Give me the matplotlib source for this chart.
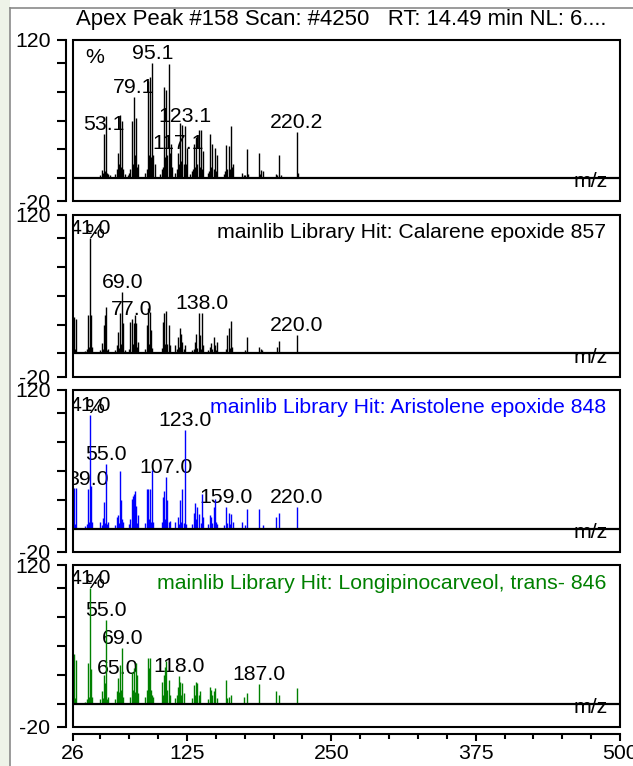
import matplotlib
matplotlib.use("Agg")
import matplotlib.pyplot as plt
from matplotlib.patches import Rectangle
from matplotlib.ticker import FixedLocator

plt.rcParams['font.family'] = ['Liberation Sans', 'DejaVu Sans']

title = "Apex Peak #158 Scan: #4250   RT: 14.49 min NL: 6...."

# measured scan
scan_mz = [50, 51, 52, 53, 54, 55, 56, 57, 58,
           63, 64, 65, 66, 67, 68, 69, 70, 71,
           74, 75, 76, 77, 78, 79, 80, 81, 82, 83,
           89, 90, 91, 92, 93, 94, 95, 96, 97,
           102, 103, 104, 105, 106, 107, 108, 109, 110, 111, 112,
           115, 116, 117, 118, 119, 120, 121, 122, 123, 124, 125,
           128, 129, 130, 131, 132, 133, 134, 135, 136, 137, 138, 139,
           143, 144, 145, 146, 147, 148, 149, 150, 151,
           157, 158, 159, 160, 161, 162, 163, 164, 165,
           173, 174, 175, 177, 178,
           187, 188, 189, 191,
           202, 203, 205, 206,
           220, 221,
           232, 247, 262, 281, 300, 322, 356]
scan_int = [3, 7, 5, 38, 6, 54, 5, 4, 3,
            4, 8, 22, 12, 55, 10, 50, 8, 4,
            3, 5, 8, 50, 12, 70, 20, 52, 10, 12,
            5, 8, 84, 20, 88, 18, 100, 20, 12,
            4, 8, 10, 79, 18, 76, 20, 99, 22, 30, 10,
            5, 8, 22, 12, 48, 15, 46, 12, 45, 12, 26,
            4, 6, 8, 30, 10, 36, 12, 42, 10, 42, 8, 24,
            5, 6, 38, 10, 30, 8, 26, 6, 20,
            4, 6, 29, 8, 28, 8, 45, 10, 12,
            5, 3, 3, 25, 4,
            22, 4, 7, 6,
            4, 3, 20, 3,
            40, 5,
            1, 1.5, 1, 1, 1.2, 0.8, 1]
scan_labels = [53, 79, 95, 117, 123, 220]
scan_label_text = ["53.1", "79.1", "95.1", "117.1", "123.1", "220.2"]

# library hit 1
cal_mz = [26, 27, 28, 29,
          37, 38, 39, 40, 41, 42, 43,
          50, 51, 52, 53, 54, 55, 56, 57,
          63, 64, 65, 66, 67, 68, 69, 70, 71,
          75, 76, 77, 78, 79, 80, 81, 82, 83,
          89, 90, 91, 92, 93, 94, 95,
          103, 104, 105, 106, 107, 108, 109, 110,
          115, 116, 117, 118, 119, 120, 121, 122, 123,
          129, 131, 132, 133, 134, 135, 136, 137, 138, 139,
          143, 145, 146, 147, 148, 149, 150, 151,
          159, 160, 161, 162, 163, 164,
          175, 177,
          187, 189, 190,
          203, 205,
          220]
cal_int = [3, 32, 4, 30,
           2, 4, 33, 6, 100, 33, 6,
           3, 9, 4, 25, 33, 40, 3, 4,
           3, 7, 19, 5, 35, 8, 53, 26, 3,
           4, 27, 30, 8, 26, 33, 26, 6, 10,
           4, 25, 39, 8, 36, 20, 5,
           5, 27, 35, 8, 37, 8, 25, 7,
           7, 4, 14, 6, 22, 17, 10, 4, 7,
           3, 4, 10, 17, 5, 35, 16, 4, 35, 7,
           3, 6, 9, 4, 14, 7, 3, 10,
           4, 16, 22, 5, 28, 6,
           3, 14,
           6, 4, 3,
           6, 11,
           16]
cal_labels = [41, 69, 77, 138, 220]
cal_label_text = ["41.0", "69.0", "77.0", "138.0", "220.0"]

# library hit 2
ari_mz = [26, 27, 28, 29,
          37, 38, 39, 40, 41, 42, 43,
          50, 51, 52, 53, 54, 55, 56, 57,
          63, 64, 65, 66, 67, 68, 69, 70,
          75, 76, 77, 78, 79, 80, 81, 82, 83,
          89, 90, 91, 92, 93, 94, 95, 96,
          103, 104, 105, 106, 107, 108, 109, 110,
          115, 117, 118, 119, 120, 121, 122, 123, 124,
          129, 131, 132, 133, 134, 135, 137, 138, 139,
          143, 145, 146, 147, 148, 149, 150, 151,
          157, 159, 160, 161, 162, 163, 165,
          173, 175, 177,
          187, 191,
          202, 205,
          220]
ari_int = [3, 35, 4, 35,
           2, 4, 34, 6, 98, 37, 6,
           6, 3, 9, 23, 5, 56, 4, 6,
           3, 10, 12, 5, 50, 25, 8, 6,
           4, 8, 26, 28, 30, 33, 20, 5, 12,
           5, 34, 34, 8, 34, 6, 51, 6,
           6, 27, 33, 8, 45, 25, 6, 7,
           6, 10, 4, 25, 6, 34, 5, 85, 4,
           4, 14, 22, 8, 19, 13, 5, 30, 10,
           4, 12, 10, 5, 19, 26, 6, 4,
           3, 19, 5, 14, 4, 13, 6,
           6, 3, 17,
           17, 3,
           10, 14,
           19]
ari_labels = [39, 41, 55, 107, 123, 159, 220]
ari_label_text = ["39.0", "41.0", "55.0", "107.0", "123.0", "159.0", "220.0"]

# library hit 3
lon_mz = [26, 27, 28, 29,
          37, 38, 39, 40, 41, 42, 43,
          50, 51, 52, 53, 54, 55, 56, 57,
          63, 64, 65, 66, 67, 68, 69, 70,
          76, 77, 78, 79, 80, 81, 82, 83,
          89, 90, 91, 92, 93, 94, 95, 96,
          103, 104, 105, 106, 107, 108, 109, 110,
          115, 116, 117, 118, 119, 120, 121, 122,
          129, 131, 132, 133, 134, 135, 136,
          143, 145, 146, 147, 148, 149, 151,
          159, 160, 161, 163,
          174, 177,
          187,
          202, 205,
          220]
lon_int = [4, 43, 5, 38,
           2, 4, 35, 6, 100, 30, 6,
           4, 11, 5, 25, 18, 73, 4, 6,
           4, 11, 22, 10, 34, 12, 48, 6,
           6, 28, 12, 31, 10, 35, 25, 9,
           6, 12, 40, 31, 40, 12, 8, 6,
           19, 8, 25, 32, 37, 12, 21, 8,
           5, 8, 15, 24, 19, 8, 18, 9,
           5, 16, 8, 19, 18, 8, 11,
           4, 15, 12, 8, 11, 14, 5,
           21, 5, 6, 8,
           6, 9,
           17,
           11, 8,
           14]
lon_labels = [41, 55, 65, 69, 118, 187]
lon_label_text = ["41.0", "55.0", "65.0", "69.0", "118.0", "187.0"]

hit_text = ["",
            "mainlib Library Hit: Calarene epoxide 857",
            "mainlib Library Hit: Aristolene epoxide 848",
            "mainlib Library Hit: Longipinocarveol, trans- 846"]
colors = ["black", "black", "#0000ff", "#008000"]

panels = [(scan_mz, scan_int, scan_labels, scan_label_text),
          (cal_mz, cal_int, cal_labels, cal_label_text),
          (ari_mz, ari_int, ari_labels, ari_label_text),
          (lon_mz, lon_int, lon_labels, lon_label_text)]

FS = 15.3
W, H = 633, 766
fig = plt.figure(figsize=(W / 100, H / 100), dpi=100)
fig.patch.set_facecolor("white")

# window frame on left / top
fig.patches.append(Rectangle((0, 0), 10 / W, 1, transform=fig.transFigure,
                             facecolor="#eef3e8", edgecolor="none", zorder=0))
fig.add_artist(plt.Line2D([10 / W, 10 / W], [0, 1 - 8 / H], color="#8a8a8a", lw=1.2))
fig.add_artist(plt.Line2D([10 / W, 1], [1 - 8 / H, 1 - 8 / H], color="#8a8a8a", lw=1.2))

fig.text(341 / W, 1 - 20 / H, title, ha="center", va="center", fontsize=15.9)

left, width = 72.67, 547.3
tops = [39.6, 214.8, 390.0, 565.2]
ph = 161.8

for i, (mz, inten, lab_mz, lab_txt) in enumerate(panels):
    ax = fig.add_axes([left / W, 1 - (tops[i] + ph) / H, width / W, ph / H])
    ax.set_xlim(26, 500)
    ax.set_ylim(-20, 120)
    ax.patch.set_alpha(0)

    ax.vlines(mz, 0, inten, color=colors[i], lw=1.0, zorder=3)
    ax.axhline(0, color="black", lw=1.6, zorder=4)

    lookup = dict(zip(mz, inten))
    for m, t in zip(lab_mz, lab_txt):
        ax.annotate(t, (m, lookup[m]), xytext=(0, 0), textcoords="offset points",
                    ha="center", va="bottom", fontsize=FS, zorder=1,
                    annotation_clip=False, clip_on=True)

    ax.text(0.04, 0.89, "%", transform=ax.transAxes, ha="center", va="center",
            fontsize=FS, zorder=2)
    ax.text(0.977, 0.12, "m/z", transform=ax.transAxes, ha="right", va="center",
            fontsize=FS, zorder=5)
    if hit_text[i]:
        ax.text(0.9745, 0.889, hit_text[i], transform=ax.transAxes, ha="right",
                va="center", fontsize=FS, color=colors[i], zorder=2)

    ax.add_patch(Rectangle((0, 0), 1, 1, transform=ax.transAxes, fill=False,
                           edgecolor="black", lw=1.5, zorder=6, clip_on=False))

    for s in ["top", "right", "bottom"]:
        ax.spines[s].set_visible(False)
    ax.spines["left"].set_position(("outward", 5))
    ax.spines["left"].set_linewidth(1.5)
    ax.set_yticks([-20, 0, 25, 50, 75, 100, 120])
    ax.set_yticklabels(["-20", "", "", "", "", "", "120"])
    ax.tick_params(axis="y", direction="out", length=6.5, width=1.5, pad=4.5,
                   labelsize=FS)

    if i == 3:
        ax.spines["bottom"].set_visible(True)
        ax.spines["bottom"].set_position(("outward", 5))
        ax.spines["bottom"].set_linewidth(1.5)
        ax.set_xticks([26, 125, 250, 375, 500])
        ax.xaxis.set_minor_locator(FixedLocator([50, 75, 100, 150, 175, 200, 225, 275,
                                                 300, 325, 350, 400, 425, 450, 475]))
        ax.tick_params(axis="x", which="major", direction="out", length=5, width=1.5,
                       pad=2, labelsize=FS)
        ax.tick_params(axis="x", which="minor", direction="out", length=3.8, width=1.5)
    else:
        ax.set_xticks([])

fig.savefig("out.png", dpi=100)
